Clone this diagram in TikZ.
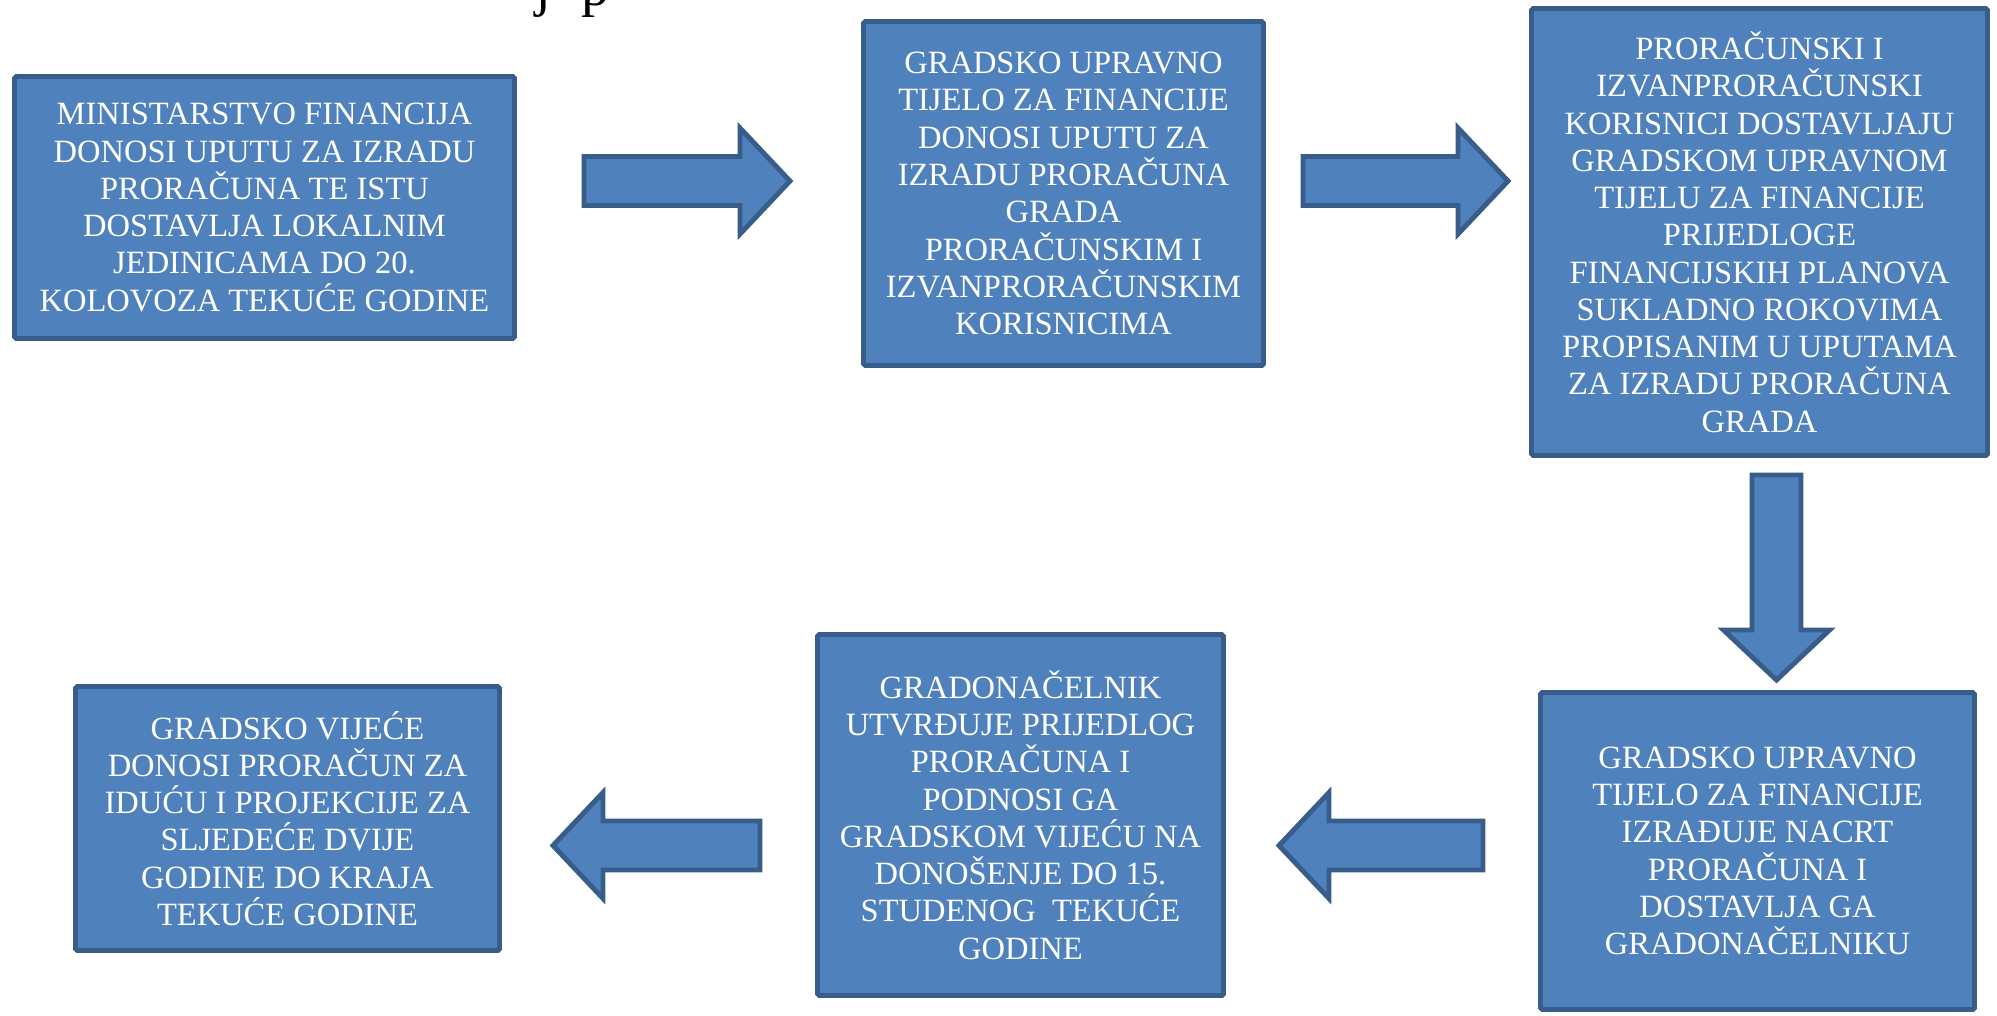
\documentclass[tikz,border=0pt]{standalone}
\usepackage{fontspec}
\setmainfont{Liberation Serif}
\usepackage{tikz}
\definecolor{plava}{HTML}{4F81BD}
\definecolor{rub}{HTML}{385D8A}

\begin{document}
\begin{tikzpicture}[x=1cm,y=-1cm]
\tikzstyle{every node}=[font=\fontsize{9.25}{10.6}\selectfont]
\tikzstyle{kutija}=[draw=rub, fill=plava, line width=1.4pt, rounded corners=0.5pt, text=white, align=center, inner sep=0pt]
\tikzstyle{strelica}=[draw=rub, fill=plava, line width=1.4pt, line join=miter]

	\useasboundingbox (0,0) rectangle (19.97,10.15);
	\clip (0,0) rectangle (19.97,10.15);

	% naslov, odrezan gornjim rubom
	\node[anchor=base west, inner sep=0pt, font=\fontsize{16}{18}\selectfont] (naslov) at (5.35,0.05) {j\hspace{0.54em}p};

	\node[kutija, minimum width=5.00cm, minimum height=2.62cm] (b1) at (2.645,2.075)
		{MINISTARSTVO FINANCIJA\\DONOSI UPUTU ZA IZRADU\\PRORAČUNA TE ISTU\\DOSTAVLJA LOKALNIM\\JEDINICAMA DO 20.\\KOLOVOZA TEKUĆE GODINE};
	\node[kutija, minimum width=4.00cm, minimum height=3.44cm] (b2) at (10.635,1.935)
		{GRADSKO UPRAVNO\\TIJELO ZA FINANCIJE\\DONOSI UPUTU ZA\\IZRADU PRORAČUNA\\GRADA\\PRORAČUNSKIM I\\IZVANPRORAČUNSKIM\\KORISNICIMA};
	\node[kutija, minimum width=4.56cm, minimum height=4.47cm] (b3) at (17.595,2.32)
		{PRORAČUNSKI I\\IZVANPRORAČUNSKI\\KORISNICI DOSTAVLJAJU\\GRADSKOM UPRAVNOM\\TIJELU ZA FINANCIJE\\PRIJEDLOGE\\FINANCIJSKIH PLANOVA\\SUKLADNO ROKOVIMA\\PROPISANIM U UPUTAMA\\ZA IZRADU PRORAČUNA\\GRADA};
	\node[kutija, minimum width=4.34cm, minimum height=3.17cm] (b4) at (17.575,8.51)
		{GRADSKO UPRAVNO\\TIJELO ZA FINANCIJE\\IZRAĐUJE NACRT\\PRORAČUNA I\\DOSTAVLJA GA\\GRADONAČELNIKU};
	\node[kutija, minimum width=4.06cm, minimum height=3.61cm] (b5) at (10.205,8.15)
		{GRADONAČELNIK\\UTVRĐUJE PRIJEDLOG\\PRORAČUNA I\\PODNOSI GA\\GRADSKOM VIJEĆU NA\\DONOŠENJE DO 15.\\STUDENOG\ \ TEKUĆE\\GODINE};
	\node[kutija, minimum width=4.24cm, minimum height=2.64cm] (b6) at (2.875,8.185)
		{GRADSKO VIJEĆE\\DONOSI PRORAČUN ZA\\IDUĆU I PROJEKCIJE ZA\\SLJEDEĆE DVIJE\\GODINE DO KRAJA\\TEKUĆE GODINE};

	% blok strelice: rep (x,y), smjer, duljina
	\foreach \x/\y/\kut/\duz in {5.84/1.81/0/2.06, 13.03/1.81/0/2.05, 17.765/4.75/-90/2.05, 14.83/8.455/180/2.04, 7.60/8.455/180/2.07} {
		\draw[strelica, shift={(\x,\y)}, rotate=\kut]
			(0,-0.245) -- (\duz-0.5,-0.245) -- (\duz-0.5,-0.53) -- (\duz,0)
			-- (\duz-0.5,0.53) -- (\duz-0.5,0.245) -- (0,0.245) -- cycle;
	}
\end{tikzpicture}
\end{document}
